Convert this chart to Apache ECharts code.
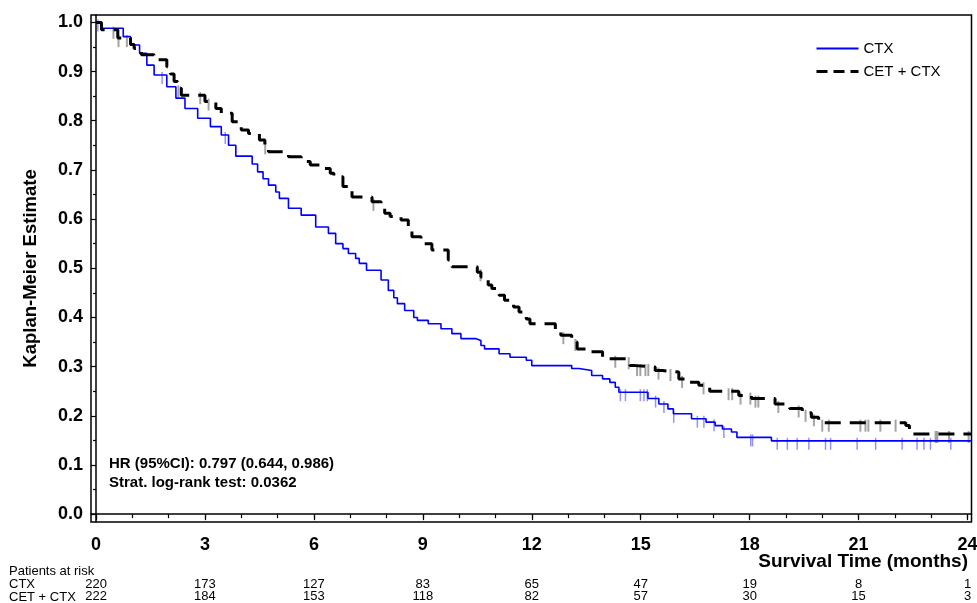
<!DOCTYPE html>
<html><head><meta charset="utf-8">
<script src="https://cdn.jsdelivr.net/npm/echarts@6/dist/echarts.min.js"></script>
<style>html,body{margin:0;padding:0;background:#fff}#c{width:977px;height:603px}</style>
</head><body><div id="c"></div>
<script>
const FONT = 'Liberation Sans, Arial, sans-serif';
const xTickLabels = [0, 3, 6, 9, 12, 15, 18, 21, 24];
const xMinorTicks = [0,1,2,3,4,5,6,7,8,9,10,11,12,13,14,15,16,17,18,19,20,21,22,23,24];
const yTickLabels = [0, 0.1, 0.2, 0.3, 0.4, 0.5, 0.6, 0.7, 0.8, 0.9, 1.0];
const yMinorTicks = [0.05, 0.15, 0.25, 0.35, 0.45, 0.55, 0.65, 0.75, 0.85, 0.95];

const ctxTime = [0, 0.15, 0.75, 0.95, 1.2, 1.4, 1.6, 1.95, 2.2, 2.45, 2.8, 3.15, 3.45, 3.65, 3.85, 4.3, 4.45, 4.6, 4.75, 4.95, 5.05, 5.3, 5.65, 6.05, 6.4, 6.6, 6.8, 6.95, 7.15, 7.25, 7.45, 7.85, 8.05, 8.2, 8.3, 8.5, 8.75, 8.85, 9.15, 9.5, 9.8, 10.05, 10.45, 10.6, 10.7, 11.1, 11.4, 11.85, 12.0, 13.1, 13.3, 13.65, 13.95, 14.15, 14.3, 14.4, 15.2, 15.5, 15.75, 15.9, 16.4, 16.8, 17.05, 17.25, 17.5, 17.65, 18.6, 24.11];
const ctxSurv = [1.0, 0.988, 0.971, 0.954, 0.937, 0.913, 0.893, 0.869, 0.846, 0.825, 0.805, 0.788, 0.771, 0.750, 0.728, 0.712, 0.696, 0.682, 0.669, 0.655, 0.642, 0.622, 0.608, 0.584, 0.571, 0.550, 0.540, 0.530, 0.520, 0.510, 0.496, 0.476, 0.455, 0.440, 0.428, 0.414, 0.400, 0.394, 0.387, 0.377, 0.367, 0.357, 0.353, 0.343, 0.336, 0.326, 0.319, 0.313, 0.302, 0.296, 0.292, 0.282, 0.275, 0.268, 0.258, 0.248, 0.235, 0.224, 0.214, 0.204, 0.194, 0.187, 0.180, 0.173, 0.167, 0.156, 0.149, 0.149];
const ctxCensor = [0.05, 1.82, 3.56, 14.44, 14.58, 14.99, 15.09, 15.18, 15.41, 15.64, 15.91, 16.56, 16.74, 17.02, 17.29, 18.03, 18.08, 18.76, 19.04, 19.31, 19.63, 20.09, 20.23, 20.96, 21.47, 22.2, 22.61, 22.8, 22.98, 23.54];

const cetTime = [0, 0.15, 0.6, 0.95, 1.05, 1.25, 1.6, 1.95, 2.05, 2.15, 2.25, 2.35, 3.0, 3.3, 3.45, 3.75, 4.0, 4.2, 4.5, 4.65, 4.75, 5.3, 5.65, 5.9, 6.25, 6.45, 6.55, 6.8, 7.05, 7.6, 7.85, 7.95, 8.1, 8.4, 8.6, 8.7, 8.95, 9.25, 9.7, 9.8, 10.5, 10.6, 10.8, 10.9, 11.1, 11.25, 11.5, 11.65, 11.85, 11.95, 12.65, 12.8, 13.1, 13.25, 13.5, 13.95, 14.6, 14.7, 14.85, 15.4, 15.6, 16.05, 16.25, 16.6, 16.9, 17.7, 18.05, 18.7, 19.1, 19.45, 19.7, 19.9, 22.3, 22.4, 24.11];
const cetSurv = [1.0, 0.985, 0.968, 0.955, 0.947, 0.934, 0.924, 0.910, 0.895, 0.880, 0.866, 0.852, 0.839, 0.825, 0.815, 0.798, 0.781, 0.774, 0.761, 0.750, 0.737, 0.727, 0.717, 0.710, 0.703, 0.693, 0.686, 0.666, 0.645, 0.635, 0.622, 0.612, 0.605, 0.598, 0.580, 0.564, 0.550, 0.537, 0.517, 0.503, 0.492, 0.482, 0.466, 0.459, 0.445, 0.435, 0.421, 0.411, 0.397, 0.387, 0.370, 0.364, 0.350, 0.336, 0.330, 0.316, 0.313, 0.302, 0.299, 0.292, 0.289, 0.275, 0.268, 0.262, 0.250, 0.241, 0.235, 0.224, 0.215, 0.206, 0.197, 0.186, 0.180, 0.163, 0.163];
const cetCensor = [0.48, 0.62, 0.85, 2.27, 2.87, 3.1, 4.66, 7.64, 10.59, 12.87, 13.2, 14.3, 14.67, 14.9, 14.99, 15.13, 15.21, 15.49, 15.82, 16.14, 16.73, 17.42, 17.52, 17.75, 18.02, 18.16, 18.24, 18.79, 19.35, 19.54, 19.77, 20.0, 20.18, 21.05, 21.19, 21.27, 21.6, 22.02, 23.12, 23.17, 23.49, 24.03];

const riskCTX = [220, 173, 127, 83, 65, 47, 19, 8, 1];
const riskCET = [222, 184, 153, 118, 82, 57, 30, 15, 3];

const seriesNames = ['CTX', 'CET + CTX'];
const xAxisTitle = 'Survival Time (months)';
const yAxisTitle = 'Kaplan-Meier Estimate';
const annotations = ['HR (95%CI): 0.797 (0.644, 0.986)', 'Strat. log-rank test: 0.0362'];
const riskTitle = 'Patients at risk';

function survAt(times, survs, t) {
  let s = survs[0];
  for (let i = 0; i < times.length; i++) { if (times[i] <= t) s = survs[i]; else break; }
  return s;
}
const ctxLine = ctxTime.map((t, i) => [t, ctxSurv[i]]);
const cetLine = cetTime.map((t, i) => [t, cetSurv[i]]);
const ctxCens = ctxCensor.map(t => [t, survAt(ctxTime, ctxSurv, t)]);
const cetCens = cetCensor.map(t => [t, survAt(cetTime, cetSurv, t)]);

const XMIN = -0.138, XMAX = 24.11, YMIN = -0.016, YMAX = 1.015;

const chart = echarts.init(document.getElementById('c'), null, {renderer: 'canvas'});
chart.setOption({
  animation: false,
  backgroundColor: '#fff',
  textStyle: {fontFamily: FONT},
  grid: {left: 91, right: 5.5, top: 15, bottom: 81, containLabel: false, outerBoundsMode: 'none',
         show: true, borderColor: '#000', borderWidth: 1.5, backgroundColor: 'transparent'},
  legend: {
    data: [
      {name: seriesNames[0]},
      {name: seriesNames[1], lineStyle: {type: [11, 6], width: 3, color: '#000'}}
    ],
    orient: 'vertical', left: 810, top: 36, itemWidth: 42, itemHeight: 12, itemGap: 8,
    itemStyle: {opacity: 0},
    textStyle: {fontFamily: FONT, fontSize: 15, color: '#000'}
  },
  xAxis: [
    {
      type: 'value', min: XMIN, max: XMAX, position: 'bottom',
      axisLine: {show: true, lineStyle: {color: '#000', width: 1.5}},
      axisTick: {show: true, customValues: xTickLabels, length: 6, lineStyle: {color: '#000', width: 1.2}},
      axisLabel: {customValues: xTickLabels, margin: 14, fontFamily: FONT, fontSize: 18, fontWeight: 'bold', color: '#000', formatter: v => String(Math.round(v))},
      splitLine: {show: false}
    },
    {
      type: 'value', min: XMIN, max: XMAX, position: 'bottom',
      axisLine: {show: false},
      axisTick: {show: true, customValues: xMinorTicks, length: 4, lineStyle: {color: '#000', width: 1.2}},
      axisLabel: {show: false}, splitLine: {show: false}
    },
    {
      type: 'value', min: XMIN, max: XMAX, position: 'bottom', offset: 48,
      axisLine: {show: false}, axisTick: {show: false}, splitLine: {show: false},
      axisLabel: {
        customValues: xTickLabels, margin: 8, fontFamily: FONT, fontSize: 13, lineHeight: 12.5, color: '#000',
        formatter: v => { const i = xTickLabels.indexOf(Math.round(v)); return i < 0 ? '' : riskCTX[i] + '\n' + riskCET[i]; }
      }
    }
  ],
  yAxis: [
    {
      type: 'value', min: YMIN, max: YMAX, position: 'left',
      name: yAxisTitle, nameLocation: 'middle', nameGap: 51, nameRotate: 90,
      nameTextStyle: {fontFamily: FONT, fontSize: 18.5, fontWeight: 'bold', color: '#000'},
      axisLine: {show: true, lineStyle: {color: '#000', width: 1.5}},
      axisTick: {show: true, customValues: yTickLabels, length: 5, lineStyle: {color: '#000', width: 1.2}},
      axisLabel: {customValues: yTickLabels, margin: 8, fontFamily: FONT, fontSize: 18, fontWeight: 'bold', color: '#000', formatter: v => v.toFixed(1)},
      splitLine: {show: false}
    },
    {
      type: 'value', min: YMIN, max: YMAX, position: 'left',
      axisLine: {show: false},
      axisTick: {show: true, customValues: yMinorTicks, length: 3, lineStyle: {color: '#000', width: 1.2}},
      axisLabel: {show: false}, splitLine: {show: false}
    }
  ],
  series: [
    {
      name: seriesNames[0], type: 'line', step: 'end', data: ctxLine, symbol: 'none', showSymbol: false,
      lineStyle: {color: '#0000ff', width: 1.6}, itemStyle: {color: '#0000ff'}, z: 3
    },
    {
      name: seriesNames[1], type: 'line', step: 'end', data: cetLine, symbol: 'none', showSymbol: false,
      lineStyle: {color: '#000', width: 3, type: [16, 9]}, itemStyle: {color: '#000'}, z: 4
    },
    {
      name: 'ctxCensor', type: 'scatter', data: ctxCens, symbol: 'rect', symbolSize: [1.5, 12], symbolOffset: [0, 3],
      itemStyle: {color: 'rgba(30,30,255,0.6)'}, z: 2, silent: true
    },
    {
      name: 'cetCensor', type: 'scatter', data: cetCens, symbol: 'rect', symbolSize: [2, 12], symbolOffset: [0, 3],
      itemStyle: {color: 'rgba(0,0,0,0.45)'}, z: 2, silent: true
    }
  ],
  graphic: [
    {type: 'text', right: 9, top: 552, style: {text: xAxisTitle, font: 'bold 19px ' + FONT, fill: '#000'}},
    {type: 'text', left: 109, top: 456, style: {text: annotations[0], font: 'bold 15px ' + FONT, fill: '#000'}},
    {type: 'text', left: 109, top: 475, style: {text: annotations[1], font: 'bold 15px ' + FONT, fill: '#000'}},
    {type: 'text', left: 9, top: 565, style: {text: riskTitle, font: '13px ' + FONT, fill: '#000'}},
    {type: 'text', left: 9, top: 578, style: {text: seriesNames[0], font: '13px ' + FONT, fill: '#000'}},
    {type: 'text', left: 9, top: 590.5, style: {text: seriesNames[1], font: '13px ' + FONT, fill: '#000'}}
  ]
});
</script></body></html>
